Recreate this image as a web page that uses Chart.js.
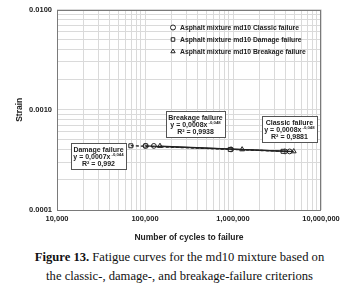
<!DOCTYPE html>
<html>
<head>
<meta charset="utf-8">
<script src="https://cdn.jsdelivr.net/npm/chart.js@4.4.1/dist/chart.umd.min.js"></script>
<style>
  body { margin: 0; background: #fff; width: 359px; height: 300px; overflow: hidden; }
  #wrap { width: 359px; height: 245px; }
  .cap {
    font-family: "Liberation Serif", "Times New Roman", serif;
    font-size: 12.6px; line-height: 19px; text-align: center;
    padding-top: 3px; color: #111;
  }
</style>
</head>
<body>
<div id="wrap"><canvas id="c" width="359" height="245"></canvas></div>
<div class="cap"><b>Figure 13.</b> Fatigue curves for the md10 mixture based on<br>the classic-, damage-, and breakage-failure criterions</div>
<script>
// values
const seriesNames = [
  "Asphalt mixture md10 Classic failure",
  "Asphalt mixture md10 Damage failure",
  "Asphalt mixture md10 Breakage failure"
];

const classicCycles = [101000, 126000, 950000, 3900000, 4400000];
const classicStrain = [0.000436, 0.000436, 0.000402, 0.000384, 0.000384];

const damageCycles = [69000, 102000, 930000, 3700000];
const damageStrain = [0.000437, 0.000436, 0.000402, 0.000385];

const breakageCycles = [148000, 1270000, 4900000];
const breakageStrain = [0.000435, 0.000402, 0.000384];

// trend line ends
const classicFitCycles = [100000, 4400000];
const classicFitStrain = [0.000437, 0.000384];
const damageFitCycles = [69000, 3700000];
const damageFitStrain = [0.000438, 0.000385];
const breakageFitCycles = [148000, 4900000];
const breakageFitStrain = [0.000434, 0.000383];

const xTickValues = [1e4, 1e5, 1e6, 1e7];
const xTickLabels = ["10,000", "100,000", "1,000,000", "10,000,000"];
const yTickValues = [0.0001, 0.001, 0.01];
const yTickLabels = ["0.0001", "0.0010", "0.0100"];

// fit boxes: title, coefficient, exponent, R², anchor (cycles, strain)
const fitBoxes = [
  { title: "Damage failure", eq: "y = 0,0007x", exp: "-0,044", r2: "R² = 0,992", at: [29600, 0.000343] },
  { title: "Breakage failure", eq: "y = 0,0008x", exp: "-0,048", r2: "R² = 0,9938", at: [375000, 0.000718] },
  { title: "Classic failure", eq: "y = 0,0008x", exp: "-0,048", r2: "R² = 0,9881", at: [4380000, 0.000649] }
];

const FONT = '"Liberation Sans", Arial, sans-serif';
const markerStyles = ["circle", "rect", "triangle"];

function pts(xs, ys) {
  return xs.map((x, i) => ({ x: x, y: ys[i] }));
}

function logTicks(fromExp, toExp) {
  const out = [];
  for (let e = fromExp; e < toExp; e++) {
    for (let m = 1; m < 10; m++) out.push({ value: m * Math.pow(10, e) });
  }
  out.push({ value: Math.pow(10, toExp) });
  return out;
}

function labelFor(value, values, labels) {
  const i = values.findIndex(v => Math.abs(Math.log10(v) - Math.log10(value)) < 1e-6);
  return i >= 0 ? labels[i] : "";
}

const framePlugin = {
  id: "frame",
  afterDatasetsDraw(chart) {
    const { ctx, chartArea } = chart;
    ctx.save();
    ctx.strokeStyle = "#7a7a7a";
    ctx.lineWidth = 1;
    ctx.strokeRect(Math.round(chartArea.left) + 0.5, Math.round(chartArea.top) + 0.5,
      Math.round(chartArea.right - chartArea.left) - 1, Math.round(chartArea.bottom - chartArea.top) - 1);
    ctx.restore();
  }
};

const insideLegend = {
  id: "insideLegend",
  afterDraw(chart) {
    const { ctx, chartArea } = chart;
    ctx.save();
    ctx.font = "bold 6.8px " + FONT;
    ctx.textBaseline = "middle";
    seriesNames.forEach((name, i) => {
      const x = chartArea.left + 116;
      const y = chartArea.top + 18 + i * 12;
      ctx.fillStyle = "#fff";
      ctx.strokeStyle = "#222";
      ctx.lineWidth = 1;
      Chart.helpers.drawPoint(ctx, { pointStyle: markerStyles[i], radius: 2.5, borderWidth: 1, rotation: 0 }, x, y);
      ctx.fillStyle = "#222";
      ctx.fillText(name, x + 7, y + 0.5);
    });
    ctx.restore();
  }
};

const fitLabels = {
  id: "fitLabels",
  afterDraw(chart) {
    const { ctx } = chart;
    const xs = chart.scales.x, ys = chart.scales.y;
    ctx.save();
    fitBoxes.forEach(b => {
      const cx = xs.getPixelForValue(b.at[0]);
      const cy = ys.getPixelForValue(b.at[1]);
      ctx.font = "bold 7px " + FONT;
      const wTitle = ctx.measureText(b.title).width;
      const wEq = ctx.measureText(b.eq).width;
      const wR = ctx.measureText(b.r2).width;
      ctx.font = "bold 4.3px " + FONT;
      const wExp = ctx.measureText(b.exp).width;
      const w = Math.round(Math.max(wTitle, wEq + wExp + 1, wR) + 5);
      const h = 26;
      const left = Math.round(cx - w / 2) + 0.5, top = Math.round(cy - h / 2) + 0.5;
      ctx.fillStyle = "#fff";
      ctx.fillRect(left, top, w, h);
      ctx.strokeStyle = "#555";
      ctx.lineWidth = 1;
      ctx.strokeRect(left, top, w, h);
      ctx.fillStyle = "#222";
      ctx.textBaseline = "middle";
      ctx.textAlign = "center";
      ctx.font = "bold 7px " + FONT;
      ctx.fillText(b.title, cx, top + 6.5);
      ctx.fillText(b.r2, cx, top + 20.8);
      ctx.textAlign = "left";
      const eqLeft = cx - (wEq + wExp + 1) / 2;
      ctx.fillText(b.eq, eqLeft, top + 13.7);
      ctx.font = "bold 4.3px " + FONT;
      ctx.fillText(b.exp, eqLeft + wEq + 1, top + 11.2);
    });
    ctx.restore();
  }
};

const markerSet = (label, style, data) => ({
  label: label,
  data: data,
  showLine: false,
  pointStyle: style,
  pointRadius: style === "circle" ? 2.4 : 2.8,
  pointBorderWidth: 1,
  pointBorderColor: "#222",
  pointBackgroundColor: "#fff"
});

const fitLine = (data, dash) => ({
  label: "",
  data: data,
  showLine: true,
  borderColor: "#222",
  borderWidth: 1.3,
  borderDash: dash,
  pointRadius: 0
});

new Chart(document.getElementById("c").getContext("2d"), {
  type: "scatter",
  data: {
    datasets: [
      fitLine(pts(damageFitCycles, damageFitStrain), [3, 2]),
      fitLine(pts(classicFitCycles, classicFitStrain), []),
      fitLine(pts(breakageFitCycles, breakageFitStrain), []),
      markerSet(seriesNames[1], "rect", pts(damageCycles, damageStrain)),
      markerSet(seriesNames[0], "circle", pts(classicCycles, classicStrain)),
      markerSet(seriesNames[2], "triangle", pts(breakageCycles, breakageStrain))
    ]
  },
  options: {
    responsive: false,
    animation: false,
    devicePixelRatio: 1,
    layout: { padding: { top: 8, right: 38, left: 0, bottom: 0 } },
    plugins: {
      legend: { display: false },
      tooltip: { enabled: false }
    },
    scales: {
      x: {
        type: "logarithmic",
        min: 1e4,
        max: 1e7,
        afterBuildTicks: s => { s.ticks = logTicks(4, 7); },
        afterFit: s => { s.height = 35; },
        grid: { color: "#dadada", lineWidth: 1, drawTicks: false },
        border: { display: false },
        ticks: {
          autoSkip: false, maxRotation: 0, padding: 4, color: "#222",
          font: { family: FONT, size: 7.5, weight: "bold" },
          callback: v => labelFor(v, xTickValues, xTickLabels)
        },
        title: {
          display: true, text: "Number of cycles to failure", color: "#222",
          font: { family: FONT, size: 8.5, weight: "bold" },
          padding: { top: 0, bottom: 2 }
        }
      },
      y: {
        type: "logarithmic",
        min: 0.0001,
        max: 0.01,
        afterBuildTicks: s => { s.ticks = logTicks(-4, -2); },
        afterFit: s => { s.width = 57; },
        grid: { color: "#dadada", lineWidth: 1, drawTicks: false },
        border: { display: false },
        ticks: {
          autoSkip: false, padding: 5, color: "#222",
          font: { family: FONT, size: 7.5, weight: "bold" },
          callback: v => labelFor(v, yTickValues, yTickLabels)
        },
        title: {
          display: true, text: "Strain", color: "#222",
          font: { family: FONT, size: 8.5, weight: "bold" },
          padding: { top: 15, bottom: 0 }
        }
      }
    }
  },
  plugins: [framePlugin, insideLegend, fitLabels]
});
</script>
</body>
</html>
